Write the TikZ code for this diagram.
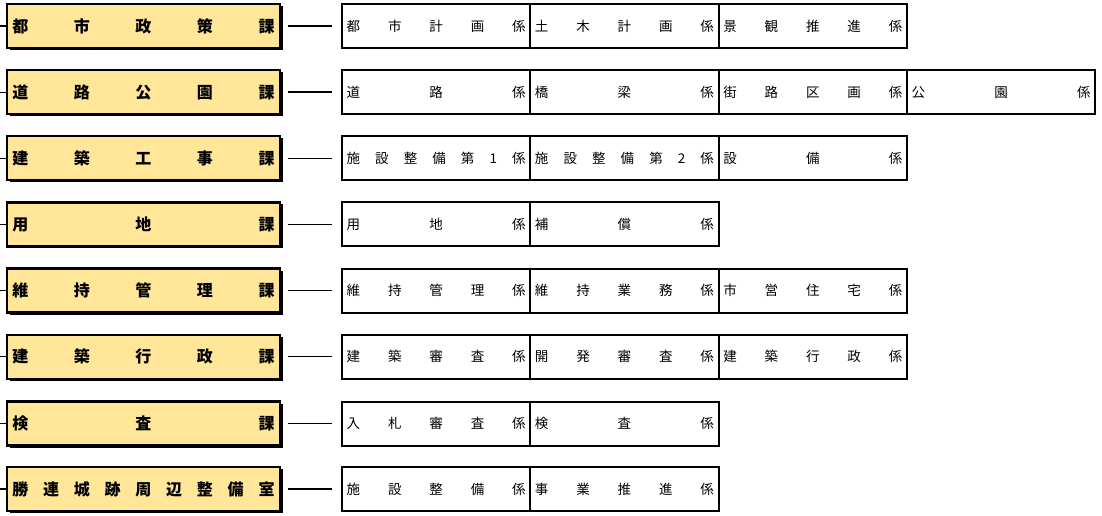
\documentclass[tikz,border=0pt]{standalone}
\usepackage{fontspec}
\newfontfamily\cjk{Noto Sans CJK JP}
\usetikzlibrary{shadows}
\definecolor{deptfill}{HTML}{FFE699}
\def\distrloop#1{\ifx\relax#1\else#1\expandafter\distrnext\fi}
\def\distrnext#1{\ifx\relax#1\else\hfill#1\expandafter\distrnext\fi}
\newcommand\distr[2]{\makebox[#1][s]{\distrloop#2\relax}}
\begin{document}
\begin{tikzpicture}[x=1pt,y=-1pt,
 dept/.style={draw=black, line width=2.2pt, fill=deptfill, minimum width=273pt, minimum height=44pt, inner sep=0pt,
   font=\cjk\bfseries\fontsize{16}{16}\selectfont,
   drop shadow={shadow xshift=2.5pt,shadow yshift=-2pt,fill=black,opacity=1}},
 cell/.style={draw=black, line width=2pt, minimum width=188.3pt, minimum height=44pt, inner sep=0pt,
   font=\cjk\fontsize{13.5}{13.5}\selectfont},
 link/.style={line width=1.5pt, shorten <=7pt, shorten >=9pt},
 stub/.style={line width=1.2pt}]
\useasboundingbox (0,0) rectangle (1102,515);

% row 1
\node[dept] (d1) at (143.5,26) {\distr{262pt}{都市政策課}};
\coordinate (s1) at (0,26);
\draw[stub] (s1) -- (d1.west);
\node[cell] (c1a) at (436.15,26) {\distr{179pt}{都市計画係}};
\node[cell] (c1b) at (624.45,26) {\distr{179pt}{土木計画係}};
\node[cell] (c1c) at (812.75,26) {\distr{179pt}{景観推進係}};
\draw[link] (d1.east) -- (c1a.west);

% row 2
\node[dept] (d2) at (143.5,92.14) {\distr{262pt}{道路公園課}};
\coordinate (s2) at (0,92.14);
\draw[stub] (s2) -- (d2.west);
\node[cell] (c2a) at (436.15,92.14) {\distr{179pt}{道路係}};
\node[cell] (c2b) at (624.45,92.14) {\distr{179pt}{橋梁係}};
\node[cell] (c2c) at (812.75,92.14) {\distr{179pt}{街路区画係}};
\node[cell] (c2d) at (1001.05,92.14) {\distr{179pt}{公園係}};
\draw[link] (d2.east) -- (c2a.west);

% row 3
\node[dept] (d3) at (143.5,158.28) {\distr{262pt}{建築工事課}};
\coordinate (s3) at (0,158.28);
\draw[stub] (s3) -- (d3.west);
\node[cell] (c3a) at (436.15,158.28) {\distr{179pt}{施設整備第1係}};
\node[cell] (c3b) at (624.45,158.28) {\distr{179pt}{施設整備第2係}};
\node[cell] (c3c) at (812.75,158.28) {\distr{179pt}{設備係}};
\draw[link] (d3.east) -- (c3a.west);

% row 4
\node[dept] (d4) at (143.5,224.42) {\distr{262pt}{用地課}};
\coordinate (s4) at (0,224.42);
\draw[stub] (s4) -- (d4.west);
\node[cell] (c4a) at (436.15,224.42) {\distr{179pt}{用地係}};
\node[cell] (c4b) at (624.45,224.42) {\distr{179pt}{補償係}};
\draw[link] (d4.east) -- (c4a.west);

% row 5
\node[dept] (d5) at (143.5,290.56) {\distr{262pt}{維持管理課}};
\coordinate (s5) at (0,290.56);
\draw[stub] (s5) -- (d5.west);
\node[cell] (c5a) at (436.15,290.56) {\distr{179pt}{維持管理係}};
\node[cell] (c5b) at (624.45,290.56) {\distr{179pt}{維持業務係}};
\node[cell] (c5c) at (812.75,290.56) {\distr{179pt}{市営住宅係}};
\draw[link] (d5.east) -- (c5a.west);

% row 6
\node[dept] (d6) at (143.5,356.7) {\distr{262pt}{建築行政課}};
\coordinate (s6) at (0,356.7);
\draw[stub] (s6) -- (d6.west);
\node[cell] (c6a) at (436.15,356.7) {\distr{179pt}{建築審査係}};
\node[cell] (c6b) at (624.45,356.7) {\distr{179pt}{開発審査係}};
\node[cell] (c6c) at (812.75,356.7) {\distr{179pt}{建築行政係}};
\draw[link] (d6.east) -- (c6a.west);

% row 7
\node[dept] (d7) at (143.5,423.5) {\distr{262pt}{検査課}};
\coordinate (s7) at (0,423.5);
\draw[stub] (s7) -- (d7.west);
\node[cell] (c7a) at (436.15,423.5) {\distr{179pt}{入札審査係}};
\node[cell] (c7b) at (624.45,423.5) {\distr{179pt}{検査係}};
\draw[link] (d7.east) -- (c7a.west);

% row 8
\node[dept] (d8) at (143.5,489) {\distr{262pt}{勝連城跡周辺整備室}};
\coordinate (s8) at (0,489);
\draw[stub] (s8) -- (d8.west);
\node[cell] (c8a) at (436.15,489) {\distr{179pt}{施設整備係}};
\node[cell] (c8b) at (624.45,489) {\distr{179pt}{事業推進係}};
\draw[link] (d8.east) -- (c8a.west);
\end{tikzpicture}
\end{document}
